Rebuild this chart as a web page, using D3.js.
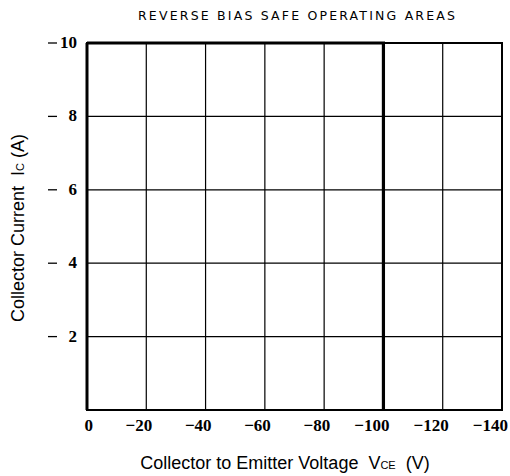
<!DOCTYPE html>
<html lang="en">
<head>
    <meta charset="UTF-8">
    <title>Reverse Bias Safe Operating Areas</title>
    <script src="https://cdnjs.cloudflare.com/ajax/libs/d3/7.9.0/d3.min.js"></script>
    <style>
        body { margin: 0; background: #fff; }
        svg { display: block; }
        text { white-space: pre; }
    </style>
</head>
<body>
<div id="chart"></div>
<script>
    // values
    const title = 'REVERSE BIAS SAFE OPERATING AREAS';
    const xTicks = [0, -20, -40, -60, -80, -100, -120, -140];
    const yTicks = [2, 4, 6, 8, 10];
    const soaVce = [0, -100, -100];
    const soaIc = [10, 10, 0];

    const width = 510, height = 476;
    const margin = { top: 43, right: 8, bottom: 66, left: 87 };

    const svg = d3.select('#chart')
        .append('svg')
        .attr('width', width)
        .attr('height', height);

    const x = d3.scaleLinear()
        .domain([0, -140])
        .range([margin.left, width - margin.right]);

    const y = d3.scaleLinear()
        .domain([0, 10])
        .range([height - margin.bottom, margin.top]);

    // grid
    svg.append('g')
        .selectAll('line')
        .data(xTicks.slice(1))
        .enter().append('line')
        .attr('x1', d => x(d)).attr('x2', d => x(d))
        .attr('y1', y(0)).attr('y2', y(10))
        .attr('stroke', '#000')
        .attr('stroke-width', 1.2);

    svg.append('g')
        .selectAll('line')
        .data(yTicks)
        .enter().append('line')
        .attr('x1', x(0)).attr('x2', x(-140))
        .attr('y1', d => y(d)).attr('y2', d => y(d))
        .attr('stroke', '#000')
        .attr('stroke-width', 1.2);

    // frame
    svg.append('rect')
        .attr('x', x(0)).attr('y', y(10))
        .attr('width', x(-140) - x(0))
        .attr('height', y(0) - y(10))
        .attr('fill', 'none')
        .attr('stroke', '#000')
        .attr('stroke-width', 2);

    // safe operating area boundary
    const line = d3.line()
        .x((d, i) => x(soaVce[i]))
        .y((d, i) => y(soaIc[i]));

    svg.append('path')
        .datum(soaVce)
        .attr('d', line)
        .attr('fill', 'none')
        .attr('stroke', '#000')
        .attr('stroke-width', 3.2);

    svg.append('line')
        .attr('x1', x(0)).attr('x2', x(0))
        .attr('y1', y(0)).attr('y2', y(10))
        .attr('stroke', '#000')
        .attr('stroke-width', 3);

    // x tick labels
    svg.append('g')
        .selectAll('text')
        .data(xTicks)
        .enter().append('text')
        .attr('x', d => x(d) + 6)
        .attr('y', 431)
        .attr('text-anchor', 'end')
        .style('font-family', '"Liberation Serif", serif')
        .style('font-weight', 'bold')
        .style('font-size', '17px')
        .text(d => d === 0 ? '0' : '\u2212' + Math.abs(d));

    // y tick labels with the little dash in front
    const yl = svg.append('g');
    yl.selectAll('text')
        .data(yTicks)
        .enter().append('text')
        .attr('x', 77)
        .attr('y', d => y(d) + 5)
        .attr('text-anchor', 'end')
        .style('font-family', '"Liberation Serif", serif')
        .style('font-weight', 'bold')
        .style('font-size', '17px')
        .text(d => d);

    yl.selectAll('line')
        .data(yTicks)
        .enter().append('line')
        .attr('x1', 48).attr('x2', 57)
        .attr('y1', d => y(d)).attr('y2', d => y(d))
        .attr('stroke', '#000')
        .attr('stroke-width', 1.3);

    // title
    svg.append('text')
        .attr('x', 138)
        .attr('y', 20)
        .attr('textLength', 317)
        .attr('lengthAdjust', 'spacing')
        .style('font-family', '"DejaVu Sans", sans-serif')
        .style('font-size', '12.5px')
        .text(title);

    // axis titles
    const xt = svg.append('text')
        .attr('x', 285)
        .attr('y', 469)
        .attr('text-anchor', 'middle')
        .style('font-family', '"Liberation Sans", Arial, sans-serif')
        .style('font-size', '18px');
    xt.append('tspan').text('Collector to Emitter Voltage  V');
    xt.append('tspan').style('font-size', '11px').text('CE');
    xt.append('tspan').text('  (V)');

    const yt = svg.append('text')
        .attr('transform', 'translate(24,228) rotate(-90)')
        .attr('text-anchor', 'middle')
        .style('font-family', '"Liberation Sans", Arial, sans-serif')
        .style('font-size', '18px');
    yt.append('tspan').text('Collector Current  I');
    yt.append('tspan').style('font-size', '11px').text('C');
    yt.append('tspan').text(' (A)');
</script>
</body>
</html>
